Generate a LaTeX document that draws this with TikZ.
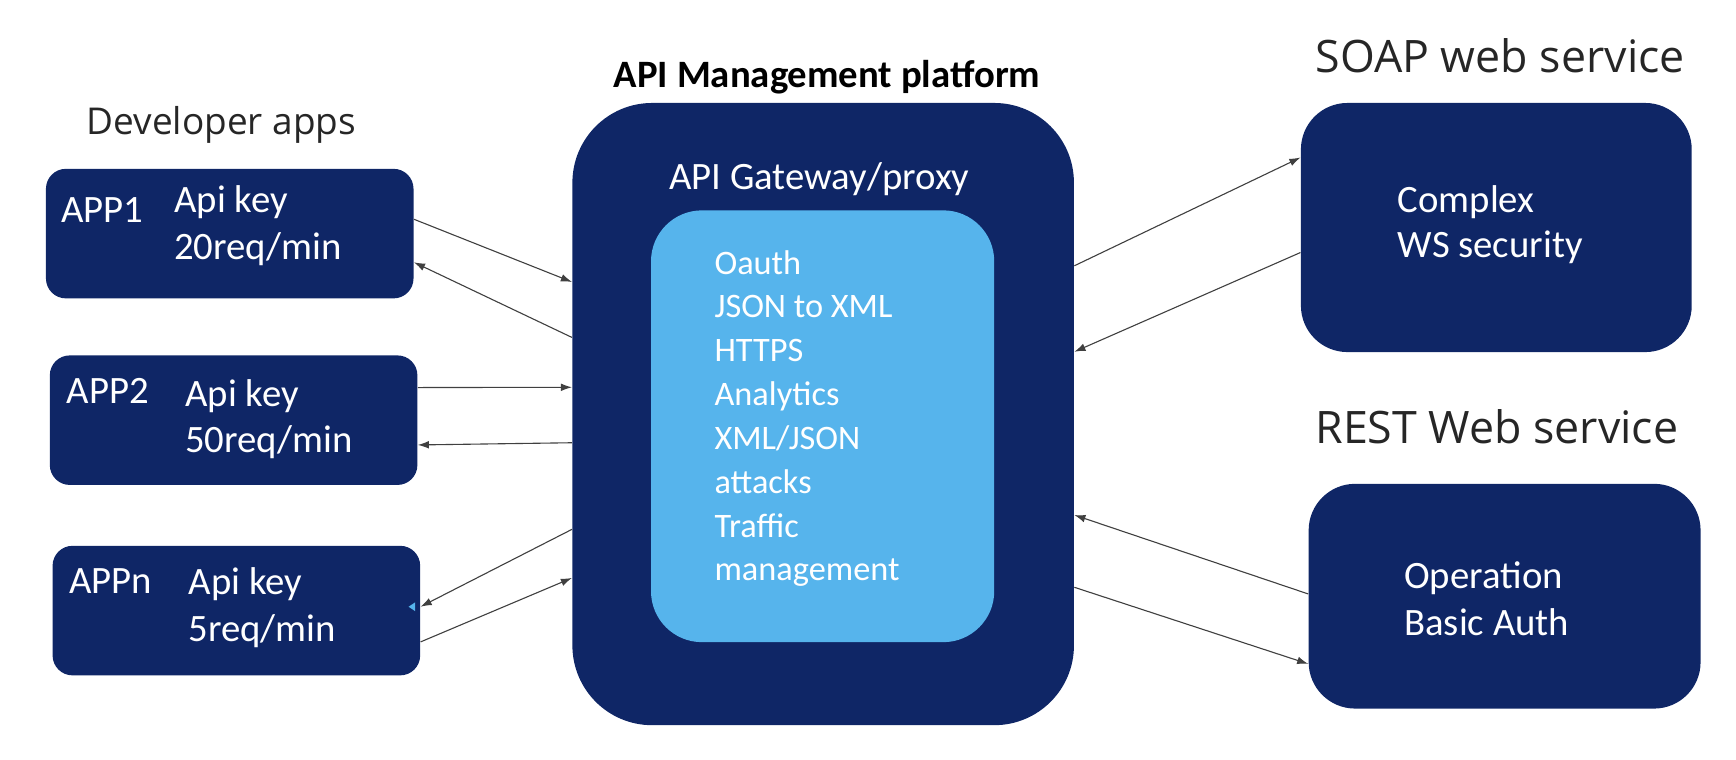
\documentclass[tikz,border=0pt]{standalone}
\usepackage{fontspec}
\setmainfont{Carlito}
\newfontfamily\headfont{Open Sans}
\usetikzlibrary{calc,arrows.meta}

\definecolor{navy}{RGB}{15,38,102}
\definecolor{skyblue}{RGB}{86,180,236}

\tikzset{
  appbox/.style={rectangle,rounded corners=9pt,fill=navy,inner sep=0pt,
    minimum width=166pt,minimum height=58.5pt},
  wsbox/.style={rectangle,rounded corners=21pt,fill=navy,inner sep=0pt},
  boxtext/.style={text=white,font=\fontsize{17.5}{21}\selectfont,align=left,
    anchor=west,inner sep=0pt},
  head/.style={font=\headfont\fontsize{20.2}{24}\selectfont,text=black!85,inner sep=0pt},
  flow/.style={color=black!75,line width=.5pt,->,>={Latex[length=5pt,width=3.5pt]}}
}

\begin{document}
\begin{tikzpicture}[x=.5pt,y=-.5pt]
    \useasboundingbox (0,0) rectangle (1568,686);
    % developer apps
    \node[head,font=\headfont\fontsize{16.7}{20}\selectfont] (devs) at (200,113) {Developer apps};
    \node[appbox] (app1) at (207.5,211) {};
    \node[appbox] (app2) at (211,379.5) {};
    \node[appbox] (appn) at (213.5,551.5) {};
    \node[boxtext] (app1name) at (55,190) {APP1};
    \node[boxtext] (app1key) at (157,204) {Api key\\20req/min};
    \node[boxtext] (app2name) at (60,353) {APP2};
    \node[boxtext] (app2key) at (167,378.5) {Api key\\50req/min};
    \node[boxtext] (appnname) at (62,525) {APPn};
    \node[boxtext] (appnkey) at (170,549) {Api key\\5req/min};
    \fill[skyblue] (369,548) -- (375,544) -- (375,552) -- cycle;
    % platform
    \node[font=\bfseries\fontsize{17.5}{21}\selectfont,inner sep=0pt] (title) at (747,70) {API Management platform};
    \node[rectangle,rounded corners=36pt,fill=navy,minimum width=226.5pt,minimum height=281pt,inner sep=0pt]
      (platform) at (743.5,374) {};
    \node[boxtext,anchor=center] (gwname) at (740,162) {API Gateway/proxy};
    \node[rectangle,rounded corners=23pt,fill=skyblue,minimum width=155pt,minimum height=195pt,inner sep=0pt]
      (policies) at (743,385) {};
    \node[boxtext,font=\fontsize{15.5}{19.8}\selectfont] (policylist) at (645,378)
      {Oauth\\JSON to XML\\HTTPS\\Analytics\\XML/JSON\\attacks\\Traffic\\management};
    % backend services
    \node[head] (soaptitle) at (1355,50) {SOAP web service};
    \node[wsbox,minimum width=176.5pt,minimum height=112.5pt] (soap) at (1351.5,205.5) {};
    \node[boxtext,font=\fontsize{17.5}{20}\selectfont] (soaptext) at (1262,203) {Complex\\WS security};
    \node[head] (resttitle) at (1352,385) {REST Web service};
    \node[wsbox,minimum width=177pt,minimum height=101.5pt] (rest) at (1359,538.5) {};
    \node[boxtext] (resttext) at (1268,541) {Operation\\Basic Auth};
    % connectors
    \path[flow] ($(app1.north east)!.39!(app1.south east)$) edge ($(platform.north west)!.288!(platform.south west)$);
    \path[flow] ($(platform.north west)!.377!(platform.south west)$) edge ($(app1.north east)!.72!(app1.south east)$);
    \path[flow] ($(app2.north east)!.25!(app2.south east)$) edge ($(platform.north west)!.457!(platform.south west)$);
    \path[flow] ($(platform.north west)!.546!(platform.south west)$) edge ($(app2.north east)!.69!(app2.south east)$);
    \path[flow] ($(platform.north west)!.685!(platform.south west)$) edge ($(appn.north east)!.47!(appn.south east)$);
    \path[flow] ($(appn.north east)!.74!(appn.south east)$) edge ($(platform.north west)!.763!(platform.south west)$);
    \path[flow] ($(platform.north east)!.262!(platform.south east)$) edge ($(soap.north west)!.22!(soap.south west)$);
    \path[flow] ($(soap.north west)!.60!(soap.south west)$) edge ($(platform.north east)!.40!(platform.south east)$);
    \path[flow] ($(rest.north west)!.49!(rest.south west)$) edge ($(platform.north east)!.662!(platform.south east)$);
    \path[flow] ($(platform.north east)!.778!(platform.south east)$) edge ($(rest.north west)!.80!(rest.south west)$);
\end{tikzpicture}
\end{document}
